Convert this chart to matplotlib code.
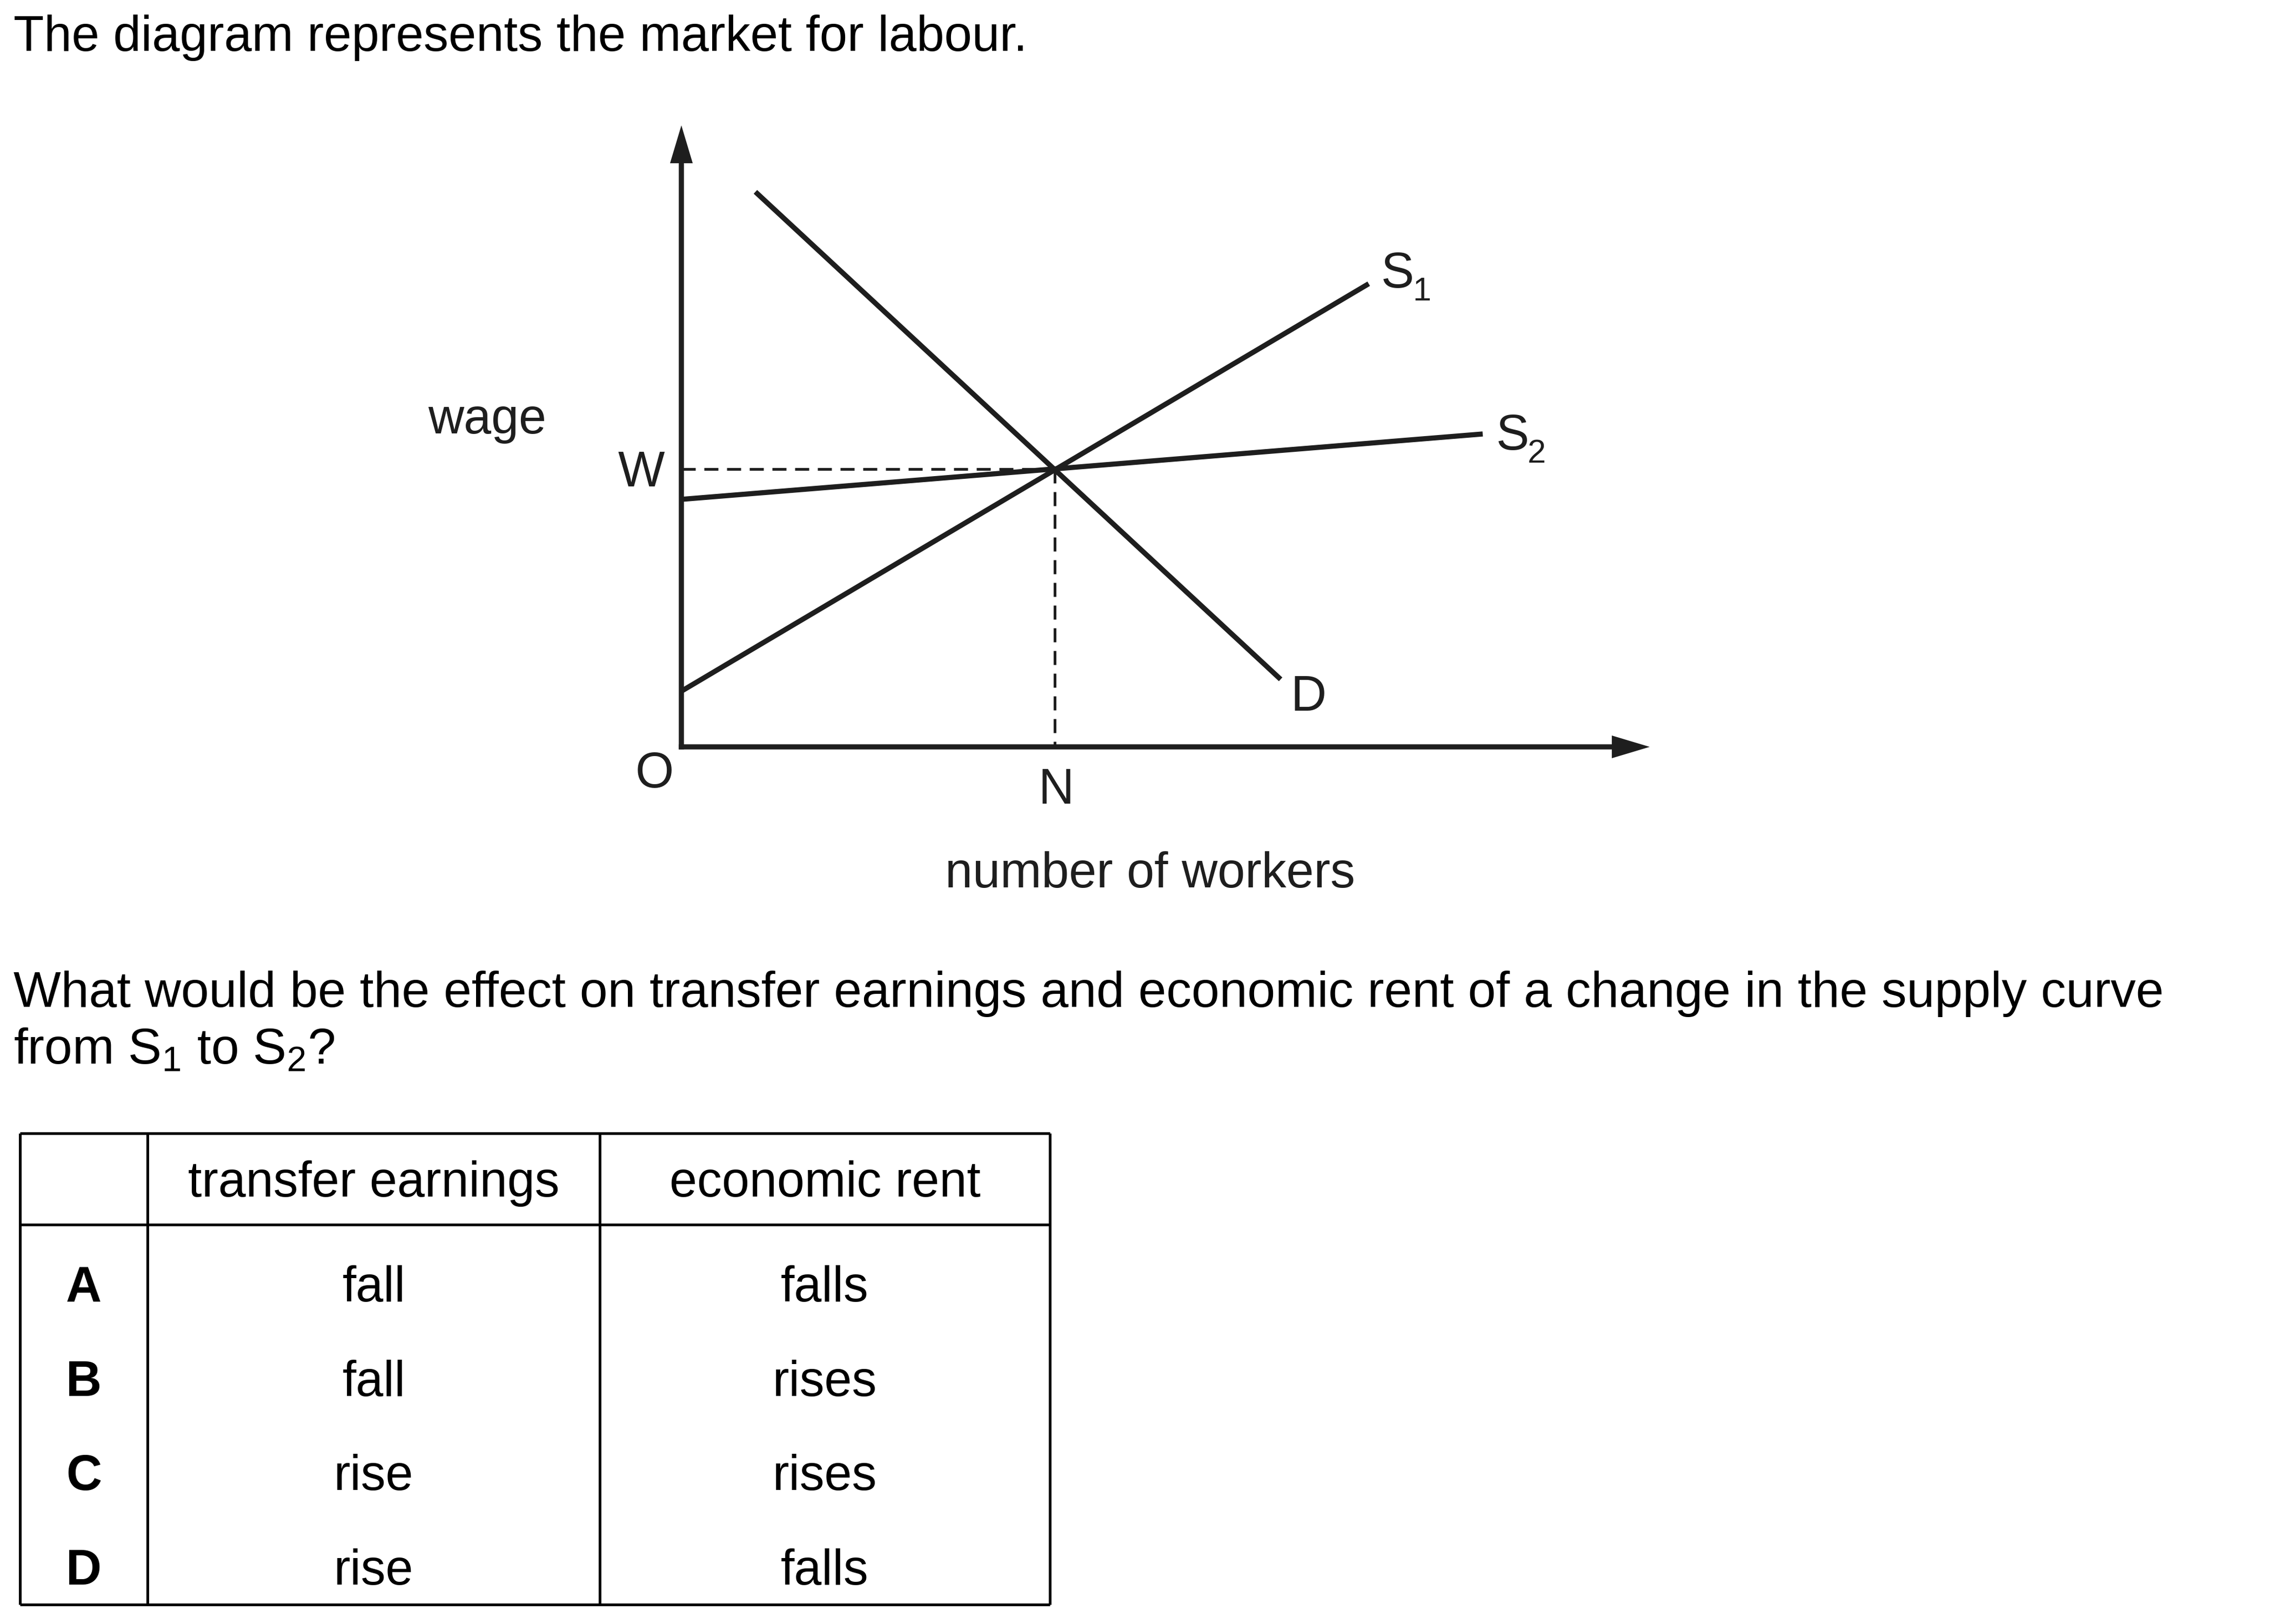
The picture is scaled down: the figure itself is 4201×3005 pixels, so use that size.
import matplotlib
matplotlib.use("Agg")
import matplotlib.pyplot as plt

plt.rcParams["font.family"] = ["Liberation Sans", "DejaVu Sans"]
plt.rcParams["mathtext.fontset"] = "custom"
plt.rcParams["mathtext.rm"] = "Liberation Sans"
plt.rcParams["mathtext.it"] = "Liberation Sans:italic"
plt.rcParams["mathtext.bf"] = "Liberation Sans:bold"

# --- diagram data (arbitrary units: number of workers, wage) ---
s1_workers = [0.0, 12.72]
s1_wage = [1.03, 8.57]
s2_workers = [0.0, 14.83]
s2_wage = [4.58, 5.79]
d_workers = [1.37, 11.09]
d_wage = [10.27, 1.25]
eq_workers = 6.91  # N
eq_wage = 5.14  # W
x_axis_end = 17.92
y_axis_end = 11.50

# --- question text and table ---
intro = "The diagram represents the market for labour."
question = [
    "What would be the effect on transfer earnings and economic rent of a change in the supply curve",
    r"from S$\mathregular{_1}$ to S$\mathregular{_2}$?",
]
headers = ["transfer earnings", "economic rent"]
options = ["A", "B", "C", "D"]
transfer_earnings = ["fall", "fall", "rise", "rise"]
economic_rent = ["falls", "rises", "rises", "falls"]

W_PX, H_PX = 4201, 3005
ink = "#1e1e1e"
fs = 66

fig = plt.figure(figsize=(W_PX / 100, H_PX / 100), dpi=100)


def px_axes(left, top, right, bottom):
    return fig.add_axes(
        [left / W_PX, 1 - bottom / H_PX, (right - left) / W_PX, (bottom - top) / H_PX]
    )


# text above and below the diagram
fig.text(25 / W_PX, 1 - 94 / H_PX, intro, fontsize=66.4, va="baseline", ha="left")
for i, line in enumerate(question):
    fig.text(
        25 / W_PX,
        1 - (1863 + i * 105) / H_PX,
        line,
        fontsize=67,
        va="baseline",
        ha="left",
    )

# --- Diagram ---
# origin sits at pixel (1261, 1382), 100 px per unit on both axes
ax = px_axes(1161, 132, 3161, 1482)
ax.set_xlim(-1, 19)
ax.set_ylim(-1, 12.5)
ax.axis("off")

arrow_kw = dict(
    width=0.095,
    head_width=0.42,
    head_length=0.70,
    length_includes_head=True,
    fc=ink,
    ec=ink,
    lw=0,
)
ax.arrow(-0.047, 0, x_axis_end + 0.047, 0, **arrow_kw)
ax.arrow(0, -0.047, 0, y_axis_end + 0.047, **arrow_kw)

line_kw = dict(color=ink, lw=6.8, solid_capstyle="butt")
ax.plot(s1_workers, s1_wage, **line_kw)
ax.plot(s2_workers, s2_wage, **line_kw)
ax.plot(d_workers, d_wage, **line_kw)

dash_kw = dict(color=ink, lw=3.6, linestyle=(0, (5.2, 3.2)), dash_capstyle="butt")
ax.plot([0, eq_workers], [eq_wage, eq_wage], **dash_kw)
ax.plot([eq_workers, eq_workers], [eq_wage, 0], **dash_kw)

lab = dict(fontsize=fs, color=ink, va="baseline")
ax.text(-3.59, 5.80, "wage", ha="center", **lab)
ax.text(-0.31, eq_wage - 0.32, "W", ha="right", **lab)
ax.text(-0.50, -0.75, "O", ha="center", **lab)
ax.text(eq_workers + 0.03, -1.05, "N", ha="center", **lab)
ax.text(8.67, -2.60, "number of workers", ha="center", **lab)
ax.text(d_workers[1] + 0.52, d_wage[1] - 0.58, "D", ha="center", **lab)

# supply labels: S with a lowered, smaller subscript
for name, sub, xs, ys, dx, dy in [
    ("S", "1", s1_workers, s1_wage, 0.23, -0.07),
    ("S", "2", s2_workers, s2_wage, 0.25, -0.29),
]:
    ax.text(xs[1] + dx, ys[1] + dy, name, ha="left", **lab)
    ax.text(xs[1] + dx + 0.58, ys[1] + dy - 0.24, sub, ha="left",
            fontsize=44, color=ink, va="baseline")

# --- Answer table ---
tab = px_axes(37, 2097, 1943, 2969)
tab.set_xlim(0, 1)
tab.set_ylim(1, 0)
tab.axis("off")

col_edges = [0.0, 0.124, 0.563, 1.0]
header_bottom = 0.194
border = dict(color="black", lw=3.6, clip_on=False)
tab.vlines(col_edges, 0, 1, **border)
tab.hlines([0, header_bottom, 1], 0, 1, **border)

col_mid = [(a + b) / 2 for a, b in zip(col_edges[:-1], col_edges[1:])]
for j, h in enumerate(headers):
    tab.text(col_mid[j + 1], 0.134, h, fontsize=fs, ha="center", va="baseline")

row_pitch = 0.2
for i, (opt, te, er) in enumerate(zip(options, transfer_earnings, economic_rent)):
    y = 0.357 + i * row_pitch
    tab.text(col_mid[0], y, opt, fontsize=fs, fontweight="bold", ha="center", va="baseline")
    tab.text(col_mid[1], y, te, fontsize=fs, ha="center", va="baseline")
    tab.text(col_mid[2], y, er, fontsize=fs, ha="center", va="baseline")

fig.savefig("out.png", dpi=100, facecolor="white")
